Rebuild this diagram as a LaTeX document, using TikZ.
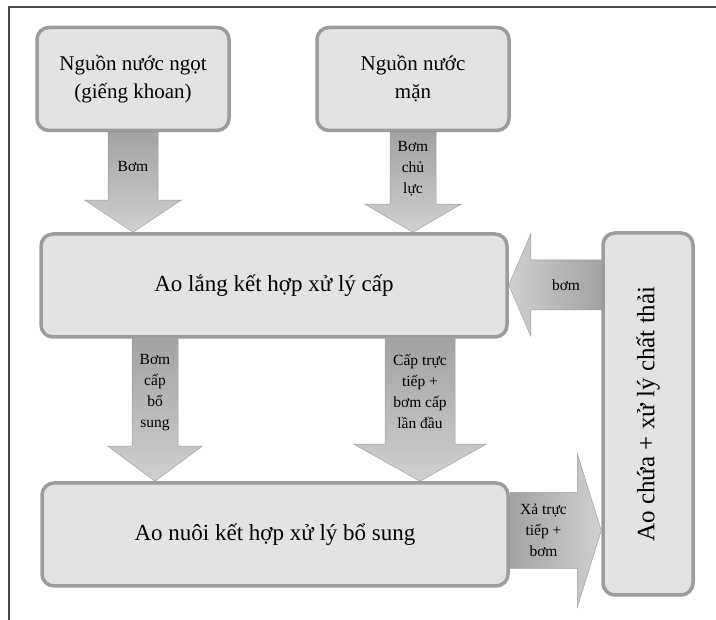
\documentclass[tikz,border=0pt]{standalone}
\usepackage{fontspec}
\setmainfont{Liberation Serif}
\usetikzlibrary{calc}
\definecolor{boxfill}{HTML}{E3E3E3}
\definecolor{boxline}{HTML}{9C9C9C}
\definecolor{arrowdark}{HTML}{A2A2A2}
\definecolor{arrowlight}{HTML}{D0D0D0}
\newcommand\bigtxt{\fontsize{21}{28}\selectfont}
\newcommand\smalltxt{\fontsize{15.5}{21}\selectfont}
\pgfdeclarelayer{bg}
\pgfsetlayers{bg,main}

% block arrows: start, target, half shaft, half head, head length, text
\newcommand\blockdown[6]{%
  \path[bigarrow, top color=arrowdark, bottom color=arrowlight] let \p1=(#1), \p2=(#2) in
    (\x1-#3pt,\y1) -- (\x1+#3pt,\y1) -- (\x1+#3pt,\y2+#5pt) -- (\x1+#4pt,\y2+#5pt)
    -- (\x1,\y2) -- (\x1-#4pt,\y2+#5pt) -- (\x1-#3pt,\y2+#5pt) -- cycle
    ({\x1},{0.5*(\y1+\y2+#5pt)}) node[lbl] {#6};}
\newcommand\blockleft[6]{%
  \path[bigarrow, left color=arrowlight, right color=arrowdark] let \p1=(#1), \p2=(#2) in
    (\x1,\y1+#3pt) -- (\x2+#5pt,\y1+#3pt) -- (\x2+#5pt,\y1+#4pt) -- (\x2,\y1)
    -- (\x2+#5pt,\y1-#4pt) -- (\x2+#5pt,\y1-#3pt) -- (\x1,\y1-#3pt) -- cycle
    ({0.5*(\x1+\x2+#5pt)},{\y1}) node[lbl] {#6};}
\newcommand\blockright[6]{%
  \path[bigarrow, left color=arrowdark, right color=arrowlight] let \p1=(#1), \p2=(#2) in
    (\x1,\y1+#3pt) -- (\x2-#5pt,\y1+#3pt) -- (\x2-#5pt,\y1+#4pt) -- (\x2,\y1)
    -- (\x2-#5pt,\y1-#4pt) -- (\x2-#5pt,\y1-#3pt) -- (\x1,\y1-#3pt) -- cycle
    ({0.5*(\x1+\x2-#5pt)},{\y1}) node[lbl] {#6};}

\begin{document}
\begin{tikzpicture}[x=1pt, y=-1pt,
    box/.style = {draw=boxline, fill=boxfill, line width=3.5pt, rounded corners=12pt, align=center, font=\bigtxt},
    bigarrow/.style = {draw=gray!75, line width=0.5pt},
    lbl/.style = {font=\smalltxt, align=center, inner sep=0pt}]
    \useasboundingbox (0,0) rectangle (716,620);

    %frame
    \draw[line width=2pt, black!70] (9,620) -- (9,7) -- (716,7);

    \node at (133,79) [box, minimum width=192pt, minimum height=103pt] (ngot) {Nguồn nước ngọt\\(giếng khoan)};
    \node at (413,79) [box, minimum width=192pt, minimum height=103pt] (man) {Nguồn nước\\mặn};
    \node at (274,285.5) [box, minimum width=466pt, minimum height=103pt, font=\fontsize{23}{28}\selectfont] (lang) {Ao lắng kết hợp xử lý cấp};
    \node at (275,534.5) [box, minimum width=466pt, minimum height=103pt, font=\fontsize{23}{28}\selectfont] (nuoi) {Ao nuôi kết hợp xử lý bổ sung};
    \node at (648,414) [box, minimum width=90pt, minimum height=362pt, font=\fontsize{25}{28}\selectfont] (chua) {\rotatebox{90}{Ao chứa + xử lý chất thải}};

    \begin{pgfonlayer}{bg}
    %supply
    \blockdown{ngot.south}{lang.north}{25}{48}{32}{Bơm}
    \blockdown{man.south}{lang.north}{23}{48}{28}{Bơm\\chủ\\lực}
    %to the pond
    \blockdown{[xshift=-119pt]lang.south}{nuoi.north}{23}{47}{35}{Bơm\\cấp\\bổ\\sung}
    \blockdown{[xshift=146pt]lang.south}{nuoi.north}{35}{66}{37}{Cấp trực\\tiếp +\\bơm cấp\\lần đầu}
    %waste
    \blockleft{[yshift=129pt]chua.west}{lang.east}{25}{51}{22}{bơm}
    \blockright{[yshift=4pt]nuoi.east}{chua.west}{38}{77}{24}{Xả trực\\tiếp +\\bơm}
    \end{pgfonlayer}
\end{tikzpicture}
\end{document}
